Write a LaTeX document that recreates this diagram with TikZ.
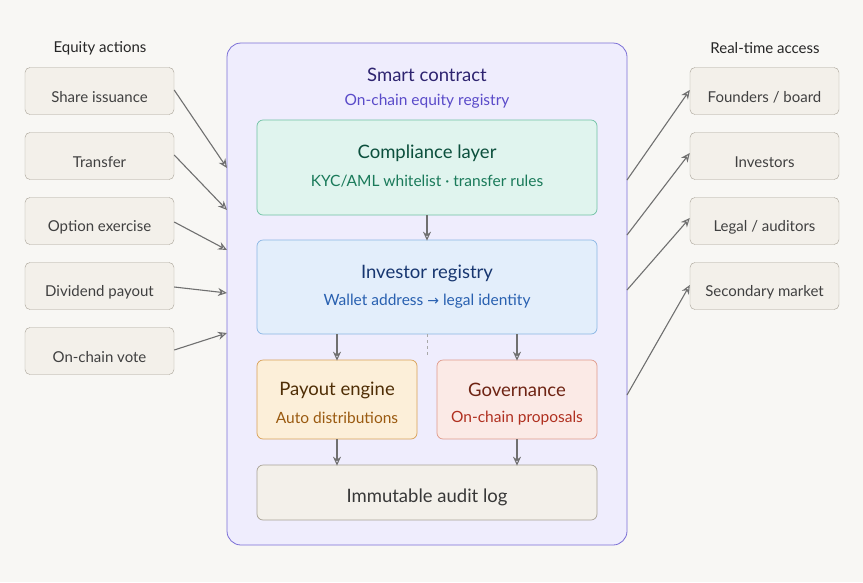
\documentclass[tikz,border=0pt]{standalone}
\usepackage{fontspec}
\setmainfont{Lato}
\newfontfamily\arr{DejaVu Sans}
\usetikzlibrary{arrows.meta}
\definecolor{bg}{HTML}{F8F7F4}
\definecolor{sbox}{HTML}{F3F0EA}
\definecolor{sbd}{HTML}{A8A296}
\definecolor{pfill}{HTML}{EFEDFD}
\definecolor{pbd}{HTML}{7B6FD6}
\definecolor{ln}{HTML}{707070}
\definecolor{sct}{HTML}{2E2470}
\definecolor{scs}{HTML}{5A4BC9}
\definecolor{gbd}{HTML}{6FC2A4}
\definecolor{gfl}{HTML}{E0F4EE}
\definecolor{gt}{HTML}{0B4F3C}
\definecolor{gs}{HTML}{1A7A5A}
\definecolor{bbd}{HTML}{8AB6E4}
\definecolor{bfl}{HTML}{E3EEFB}
\definecolor{bt}{HTML}{173670}
\definecolor{bs}{HTML}{2860B0}
\definecolor{obd}{HTML}{D9A055}
\definecolor{ofl}{HTML}{FCEFD9}
\definecolor{ot}{HTML}{4F2E06}
\definecolor{os}{HTML}{9A5A10}
\definecolor{rbd}{HTML}{E09A8A}
\definecolor{rfl}{HTML}{FBEAE6}
\definecolor{rt}{HTML}{6E2414}
\definecolor{rs}{HTML}{B03020}
\tikzset{
  side/.style={draw=sbd,fill=sbox,rounded corners=5pt,minimum width=149pt,minimum height=47pt,inner sep=0pt},
  stx/.style={text=black!75,font=\fontsize{15}{17}\selectfont},
  inner/.style={rounded corners=6pt,line width=0.7pt},
  ar/.style={draw=ln,line width=1.1pt,-{Stealth[length=9pt,width=8pt,open]}},
  ttl/.style={font=\fontsize{18.5}{21}\selectfont},
  sub/.style={font=\fontsize{15.5}{18}\selectfont},
}
\begin{document}
\begin{tikzpicture}[x=1pt,y=-1pt]
\fill[bg] (0,0) rectangle (863,582);
\useasboundingbox (0,0) rectangle (863,582);
\node[stx,text=black!85] (lt) at (100,48) {Equity actions};
\node[stx,text=black!85] (rtt) at (765,48) {Real-time access};
\foreach \n/\y/\t in {l1/91/{Share issuance},l2/156/{Transfer},l3/221/{Option exercise},l4/286/{Dividend payout},l5/351/{On-chain vote}}{
  \node[side] (\n) at (99.5,\y) {};
  \node[stx] (\n t) at (99.5,\y+6) {\t};}
\foreach \n/\y/\t in {r1/91/{Founders / board},r2/156/{Investors},r3/221/{Legal / auditors},r4/286/{Secondary market}}{
  \node[side] (\n) at (764.5,\y) {};
  \node[stx] (\n t) at (764.5,\y+6) {\t};}
\node[draw=pbd,fill=pfill,rounded corners=14pt,line width=0.8pt,minimum width=400pt,minimum height=502pt] (sc) at (427,294) {};
\node[ttl,text=sct] (sctn) at (427,75) {Smart contract};
\node[sub,text=scs] (scsn) at (427,101) {On-chain equity registry};
\node[inner,draw=gbd,fill=gfl,minimum width=340pt,minimum height=95pt] (cl) at (427,167.5) {};
\node[ttl,text=gt] (clt) at (427,153) {Compliance layer};
\node[sub,text=gs] (cls) at (427,181) {KYC/AML whitelist · transfer rules};
\node[inner,draw=bbd,fill=bfl,minimum width=340pt,minimum height=94pt] (ir) at (427,287) {};
\node[ttl,text=bt] (irt) at (427,273) {Investor registry};
\node[sub,text=bs] (irs) at (427,301) {Wallet address {\arr\fontsize{14}{16}\selectfont →} legal identity};
\node[inner,draw=obd,fill=ofl,minimum width=160pt,minimum height=79pt] (pe) at (337,399.5) {};
\node[ttl,text=ot] (pet) at (337,390) {Payout engine};
\node[sub,text=os] (pes) at (337,418) {Auto distributions};
\node[inner,draw=rbd,fill=rfl,minimum width=160pt,minimum height=79pt] (gv) at (517,399.5) {};
\node[ttl,text=rt] (gvt) at (517,390) {Governance};
\node[sub,text=rs] (gvs) at (517,418) {On-chain proposals};
\node[inner,draw=sbd,fill=sbox,minimum width=340pt,minimum height=55pt] (al) at (427,492.5) {};
\node[ttl,text=black!78] (alt) at (427,497) {Immutable audit log};
\draw[ar] (cl.south) -- ([yshift=-1pt]ir.north);
\draw[ar] (ir.south -| pe.north) -- ([yshift=-1pt]pe.north);
\draw[ar] (ir.south -| gv.north) -- ([yshift=-1pt]gv.north);
\coordinate (dd) at (427,357);
\draw[ln!60,dashed,line width=0.8pt] (ir.south) -- (dd);
\draw[ar] (pe.south) -- ([yshift=-1pt]pe.south |- al.north);
\draw[ar] (gv.south) -- ([yshift=-1pt]gv.south |- al.north);
\foreach \n/\a/\b in {l1/90/168,l2/155/210,l3/222/250,l4/287/293,l5/350/333}{
  \coordinate (e\n) at (227,\b);
  \draw[ar] (\n.east |- 0,\a) -- (e\n);}
\foreach \n/\a/\b in {r1/180/90,r2/235/153,r3/290/218,r4/395/285}{
  \coordinate (s\n) at (627,\a);
  \draw[ar] (s\n) -- (\n.west |- 0,\b);}
\end{tikzpicture}
\end{document}
